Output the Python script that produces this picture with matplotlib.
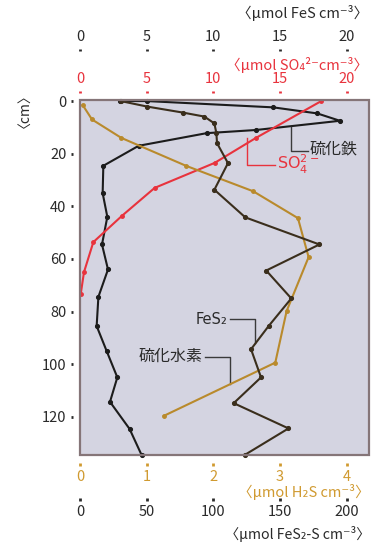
import matplotlib
matplotlib.use("Agg")
import matplotlib.pyplot as plt
from matplotlib.patches import Rectangle

plt.rcParams['font.family'] = ['Noto Sans CJK JP', 'DejaVu Sans']
plt.rcParams['mathtext.fontset'] = 'dejavusans'

# ---- data (depth in cm) ----
fes_depth = [0, 0, 2.4, 4.7, 7.5, 11, 12.2, 17, 24.6, 35, 44, 54.5, 64, 74.4,
             85.5, 95, 105, 114.3, 124.6, 134.5]
fes_conc = [3.0, 5.0, 14.5, 17.8, 19.5, 13.2, 9.5, 4.4, 1.75, 1.7, 2.05, 1.65,
            2.1, 1.38, 1.25, 2.0, 2.8, 2.25, 3.72, 4.62]

so4_depth = [0, 14, 23.5, 33, 43.6, 53.6, 65, 73.5]
so4_conc = [18.1, 13.2, 10.1, 5.6, 3.15, 1.0, 0.3, 0.05]

h2s_depth = [1.5, 7, 14, 24.6, 34.3, 44.5, 59.3, 79.8, 99.4, 119.6]
h2s_conc = [0.04, 0.18, 0.62, 1.59, 2.6, 3.27, 3.43, 3.1, 2.93, 1.26]

fes2_depth = [0, 2.1, 4.4, 5.9, 8.5, 12.2, 16, 23.6, 33.7, 44.2, 54.5, 64.4,
              75, 85.5, 94.3, 105, 114.8, 124.4, 134.5]
fes2_conc = [30.5, 50.4, 77.4, 93.3, 100.8, 102.3, 102.8, 111, 100.8, 124,
             179.6, 139.7, 158.5, 141.5, 128.3, 135.8, 115.3, 156.4, 123.5]

depth_ticks = [0, 20, 40, 60, 80, 100, 120]
fes_ticks = [0, 5, 10, 15, 20]
so4_ticks = [0, 5, 10, 15, 20]
h2s_ticks = [0, 1, 2, 3, 4]
fes2_ticks = [0, 50, 100, 150, 200]

# ---- styles ----
BG = '#d4d4e1'
C_FES = '#1c1c1c'
C_FES2 = '#3a2e1c'
C_SO4 = '#e8333d'
C_H2S = '#b98a2c'
C_H2S_TXT = '#d09a30'
C_TXT = '#2a2a2a'

W_PX, H_PX = 376, 544
fig = plt.figure(figsize=(W_PX / 100, H_PX / 100), dpi=100)
fig.patch.set_facecolor('white')

def px(x, y):
    return x / W_PX, 1 - y / H_PX

ax = fig.add_axes([80 / W_PX, 1 - 455 / H_PX, 289 / W_PX, 355 / H_PX])
ax.set_facecolor(BG)
XMAX = 21.68
ax.set_xlim(0, XMAX)
ax.set_ylim(134.5, -0.4)

ax_so4 = ax.twiny()
ax_so4.set_xlim(0, XMAX)
ax_h2s = ax.twiny()
ax_h2s.set_xlim(0, XMAX / 5)
ax_fes2 = ax.twiny()
ax_fes2.set_xlim(0, XMAX * 10)

for a in (ax, ax_so4, ax_h2s, ax_fes2):
    for s in a.spines.values():
        s.set_visible(False)

PT = 0.72  # points per pixel at 100 dpi
tick_kw = dict(length=1.8, width=2.0, labelsize=10.5)

# depth axis (left)
ax.spines['left'].set_position(('outward', 7 * PT))
ax.set_yticks(depth_ticks)
ax.tick_params(axis='y', colors=C_TXT, pad=3, **tick_kw)

# FeS axis (top, outer)
ax.xaxis.tick_top()
ax.spines['top'].set_position(('outward', 49 * PT))
ax.set_xticks(fes_ticks)
ax.tick_params(axis='x', colors=C_TXT, pad=3.5, **tick_kw)

# SO4 axis (top, inner)
ax_so4.xaxis.tick_top()
ax_so4.spines['top'].set_position(('outward', 7 * PT))
ax_so4.set_xticks(so4_ticks)
ax_so4.tick_params(axis='x', colors=C_SO4, pad=3.5, **tick_kw)

# H2S axis (bottom, inner)
ax_h2s.xaxis.tick_bottom()
ax_h2s.spines['bottom'].set_position(('outward', 8 * PT))
ax_h2s.set_xticks(h2s_ticks)
ax_h2s.tick_params(axis='x', colors=C_H2S_TXT, pad=3.5, **tick_kw)

# FeS2-S axis (bottom, outer)
ax_fes2.xaxis.tick_bottom()
ax_fes2.spines['bottom'].set_position(('outward', 43 * PT))
ax_fes2.set_xticks(fes2_ticks)
ax_fes2.tick_params(axis='x', colors=C_TXT, pad=3.5, **tick_kw)

# ---- profiles ----
line_kw = dict(lw=1.5, marker='o', clip_on=False)
ax_h2s.plot(h2s_conc, h2s_depth, color=C_H2S, ms=2.5, zorder=3, **line_kw)
ax_so4.plot(so4_conc, so4_depth, color=C_SO4, ms=2.5, zorder=3, **line_kw)
ax_fes2.plot(fes2_conc, fes2_depth, color=C_FES2, ms=2.7, zorder=4, **line_kw)
ax.plot(fes_conc, fes_depth, color=C_FES, ms=2.7, zorder=5, **line_kw)

# frame
ax_fes2.add_patch(Rectangle((0, 0), 1, 1, transform=ax.transAxes, fill=False,
                            edgecolor='#857578', lw=1.6, clip_on=False, zorder=10))

# ---- leader lines and labels (FeS data coordinates) ----
lead_kw = dict(color='#3a3a3a', lw=1.0, zorder=6, clip_on=False)
ax.plot([15.82, 15.82, 17.1], [9.8, 18.8, 18.8], **lead_kw)
ax.text(17.25, 18.2, '硫化鉄', fontsize=11.5, color=C_TXT, va='center', ha='left')

ax.plot([12.53, 12.53, 14.65], [14.0, 24.2, 24.2], color=C_SO4, lw=1.0, zorder=6)
ax.text(14.8, 24.0, r'SO$_4^{2-}$', fontsize=11.5, color=C_SO4, va='center',
        ha='left', family='DejaVu Sans')

ax.plot([11.28, 13.15, 13.15], [83.0, 83.0, 92.0], **lead_kw)
ax.text(11.1, 83.0, 'FeS₂', fontsize=10.5, color=C_TXT, va='center', ha='right',
        family=['DejaVu Sans'])

ax.plot([9.4, 11.28, 11.28], [97.3, 97.3, 107.6], **lead_kw)
ax.text(9.2, 97.0, '硫化水素', fontsize=11.5, color=C_TXT, va='center', ha='right')

# ---- axis titles ----
fig.text(*px(368, 13), '〈μmol FeS cm⁻³〉', fontsize=10.5, color=C_TXT,
         ha='right', va='center')
fig.text(*px(368, 65), '〈μmol SO₄²⁻cm⁻³〉', fontsize=10.5, color=C_SO4,
         ha='right', va='center')
fig.text(*px(370, 492), '〈μmol H₂S cm⁻³〉', fontsize=10.5, color=C_H2S_TXT,
         ha='right', va='center')
fig.text(*px(370, 534), '〈μmol FeS₂-S cm⁻³〉', fontsize=10.2, color=C_TXT,
         ha='right', va='center')
fig.text(*px(18, 104), '〈cm〉', fontsize=10, color=C_TXT, rotation=90,
         ha='center', va='center')

fig.savefig('out.png', dpi=100)
